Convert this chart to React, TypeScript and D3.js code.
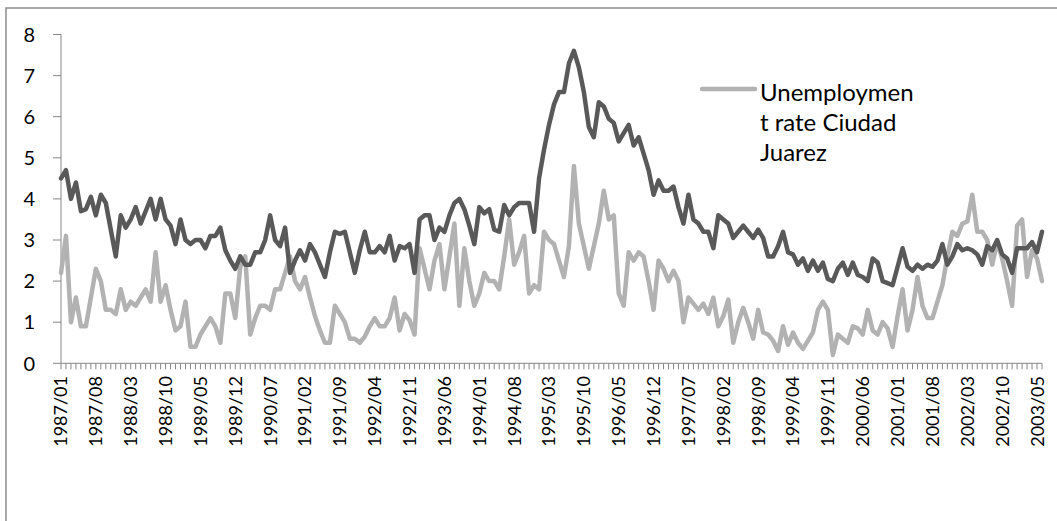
import React from "react";
import * as d3 from "d3";

// ---- data ----
const startYear = 1987;
const monthCount = 198; // 1987/01 .. 2003/06
const categories: string[] = Array.from({ length: monthCount }, (_, i) => {
  const y = startYear + Math.floor(i / 12);
  const m = (i % 12) + 1;
  return `${y}/${m < 10 ? "0" + m : m}`;
});

const tickLabels = [
  "1987/01", "1987/08", "1988/03", "1988/10", "1989/05", "1989/12", "1990/07",
  "1991/02", "1991/09", "1992/04", "1992/11", "1993/06", "1994/01", "1994/08",
  "1995/03", "1995/10", "1996/05", "1996/12", "1997/07", "1998/02", "1998/09",
  "1999/04", "1999/11", "2000/06", "2001/01", "2001/08", "2002/03", "2002/10",
  "2003/05",
];

const yTicks = [0, 1, 2, 3, 4, 5, 6, 7, 8];

// dark series (unlabelled in legend)
const seriesDark = [
  4.5, 4.7, 4.0, 4.4, 3.7, 3.75, 4.05, 3.6, 4.1, 3.9,
  3.25, 2.6, 3.6, 3.3, 3.5, 3.8, 3.4, 3.7, 4.0, 3.5,
  4.0, 3.5, 3.35, 2.9, 3.5, 3.0, 2.9, 3.0, 3.0, 2.8,
  3.1, 3.1, 3.3, 2.75, 2.5, 2.3, 2.6, 2.4, 2.4, 2.7,
  2.7, 3.0, 3.6, 3.0, 2.85, 3.3, 2.2, 2.5, 2.75, 2.5,
  2.9, 2.7, 2.4, 2.1, 2.7, 3.2, 3.15, 3.2, 2.7, 2.2,
  2.75, 3.2, 2.7, 2.7, 2.85, 2.7, 3.1, 2.5, 2.85, 2.8,
  2.9, 2.2, 3.5, 3.6, 3.6, 3.0, 3.3, 3.2, 3.6, 3.9,
  4.0, 3.75, 3.35, 2.9, 3.8, 3.65, 3.75, 3.25, 3.2, 3.85,
  3.6, 3.8, 3.9, 3.9, 3.9, 3.2, 4.5, 5.2, 5.8, 6.3,
  6.6, 6.6, 7.3, 7.6, 7.2, 6.6, 5.75, 5.5, 6.35, 6.25,
  5.95, 5.85, 5.4, 5.6, 5.8, 5.3, 5.5, 5.1, 4.7, 4.1,
  4.45, 4.2, 4.2, 4.3, 3.8, 3.4, 4.1, 3.5, 3.4, 3.2,
  3.2, 2.8, 3.6, 3.5, 3.4, 3.05, 3.2, 3.35, 3.2, 3.05,
  3.25, 3.05, 2.6, 2.6, 2.85, 3.2, 2.7, 2.65, 2.4, 2.55,
  2.25, 2.5, 2.25, 2.45, 2.05, 2.0, 2.3, 2.45, 2.15, 2.45,
  2.15, 2.1, 2.0, 2.55, 2.45, 2.0, 1.95, 1.9, 2.35, 2.8,
  2.35, 2.25, 2.4, 2.3, 2.4, 2.35, 2.5, 2.9, 2.4, 2.6,
  2.9, 2.75, 2.8, 2.75, 2.65, 2.4, 2.85, 2.75, 3.0, 2.65,
  2.55, 2.2, 2.8, 2.8, 2.8, 2.95, 2.7, 3.2,
];

// Unemployment rate Ciudad Juarez
const seriesJuarez = [
  2.2, 3.1, 1.0, 1.6, 0.9, 0.9, 1.6, 2.3, 2.0, 1.3,
  1.3, 1.2, 1.8, 1.3, 1.5, 1.4, 1.6, 1.8, 1.5, 2.7,
  1.5, 1.9, 1.3, 0.8, 0.9, 1.5, 0.4, 0.4, 0.7, 0.9,
  1.1, 0.9, 0.5, 1.7, 1.7, 1.1, 2.35, 2.6, 0.7, 1.1,
  1.4, 1.4, 1.3, 1.8, 1.8, 2.2, 2.6, 2.0, 1.8, 2.1,
  1.6, 1.15, 0.8, 0.5, 0.5, 1.4, 1.2, 1.0, 0.6, 0.6,
  0.5, 0.65, 0.9, 1.1, 0.9, 0.9, 1.1, 1.6, 0.8, 1.2,
  1.05, 0.7, 2.8, 2.3, 1.8, 2.5, 2.9, 1.8, 2.6, 3.4,
  1.4, 2.8, 2.0, 1.4, 1.7, 2.2, 2.0, 2.0, 1.8, 2.6,
  3.5, 2.4, 2.7, 3.1, 1.7, 1.9, 1.8, 3.2, 3.0, 2.9,
  2.5, 2.1, 2.85, 4.8, 3.4, 2.85, 2.3, 2.85, 3.4, 4.2,
  3.5, 3.6, 1.7, 1.4, 2.7, 2.5, 2.7, 2.6, 2.0, 1.3,
  2.5, 2.3, 2.0, 2.25, 2.0, 1.0, 1.6, 1.45, 1.3, 1.45,
  1.2, 1.6, 0.9, 1.15, 1.55, 0.5, 1.0, 1.35, 1.0, 0.6,
  1.3, 0.75, 0.7, 0.55, 0.3, 0.9, 0.45, 0.75, 0.5, 0.35,
  0.55, 0.75, 1.3, 1.5, 1.3, 0.2, 0.7, 0.6, 0.5, 0.9,
  0.85, 0.7, 1.3, 0.8, 0.7, 1.0, 0.85, 0.4, 1.15, 1.8,
  0.8, 1.3, 2.1, 1.4, 1.1, 1.1, 1.5, 1.9, 2.6, 3.2,
  3.1, 3.4, 3.45, 4.1, 3.2, 3.2, 3.0, 2.4, 2.95, 2.55,
  2.0, 1.4, 3.35, 3.5, 2.1, 2.75, 2.55, 2.0,
];

const legendLines = ["Unemploymen", "t rate Ciudad", "Juarez"];

// ---- layout ----
const W = 1057;
const H = 521;
const plotLeft = 61;
const plotRight = 1042;
const plotTop = 34.5;
const plotBottom = 363.3;
const axisColor = "#868686";
const darkColor = "#595959";
const lightColor = "#b2b2b2";
const font = "Lato, 'Open Sans', sans-serif";

export default function App() {
  const x = d3.scalePoint<string>().domain(categories).range([plotLeft, plotRight]);
  const y = d3.scaleLinear().domain([0, 8]).range([plotBottom, plotTop]);

  const line = d3
    .line<number>()
    .x((_, i) => x(categories[i]) as number)
    .y((d) => y(d));

  return (
    <svg
      width={W}
      height={H}
      style={{ position: "absolute", left: 0, top: 0, background: "#fff" }}
      fontFamily={font}
    >
      <rect x={0} y={0} width={W} height={H} fill="#fff" />
      {/* outer chart frame */}
      <path d={`M6,${H + 5} V8 H${W + 5}`} fill="none" stroke="#8c8c8c" strokeWidth={1.5} />

      {/* y axis */}
      <line x1={plotLeft} x2={plotLeft} y1={plotTop} y2={plotBottom} stroke={axisColor} strokeWidth={1} />
      {yTicks.map((t) => (
        <g key={t}>
          <line x1={plotLeft - 8} x2={plotLeft} y1={y(t)} y2={y(t)} stroke={axisColor} strokeWidth={1} />
          <text x={35} y={y(t)} dy="0.36em" textAnchor="end" fontSize={20} fill="#000">
            {t}
          </text>
        </g>
      ))}

      {/* x axis */}
      <line x1={plotLeft} x2={plotRight} y1={plotBottom} y2={plotBottom} stroke={axisColor} strokeWidth={1} />
      {categories.map((c) => (
        <line
          key={c}
          x1={x(c) as number}
          x2={x(c) as number}
          y1={plotBottom}
          y2={plotBottom + 6}
          stroke={axisColor}
          strokeWidth={1}
        />
      ))}
      {tickLabels.map((t) => {
        const cx = x(t) as number;
        const ty = 376;
        return (
          <text
            key={t}
            transform={`translate(${cx},${ty}) rotate(-90)`}
            dy="0.36em"
            textAnchor="end"
            fontSize={18}
            fill="#000"
          >
            {t}
          </text>
        );
      })}

      {/* series */}
      <path d={line(seriesJuarez) || ""} fill="none" stroke={lightColor} strokeWidth={4.5} strokeLinejoin="round" strokeLinecap="round" />
      <path d={line(seriesDark) || ""} fill="none" stroke={darkColor} strokeWidth={4.5} strokeLinejoin="round" strokeLinecap="round" />

      {/* legend */}
      <line x1={702} x2={755} y1={89} y2={89} stroke={lightColor} strokeWidth={4.5} strokeLinecap="round" />
      {legendLines.map((l, i) => (
        <text key={l} x={760} y={101 + i * 30} fontSize={24} fill="#000">
          {l}
        </text>
      ))}
    </svg>
  );
}
